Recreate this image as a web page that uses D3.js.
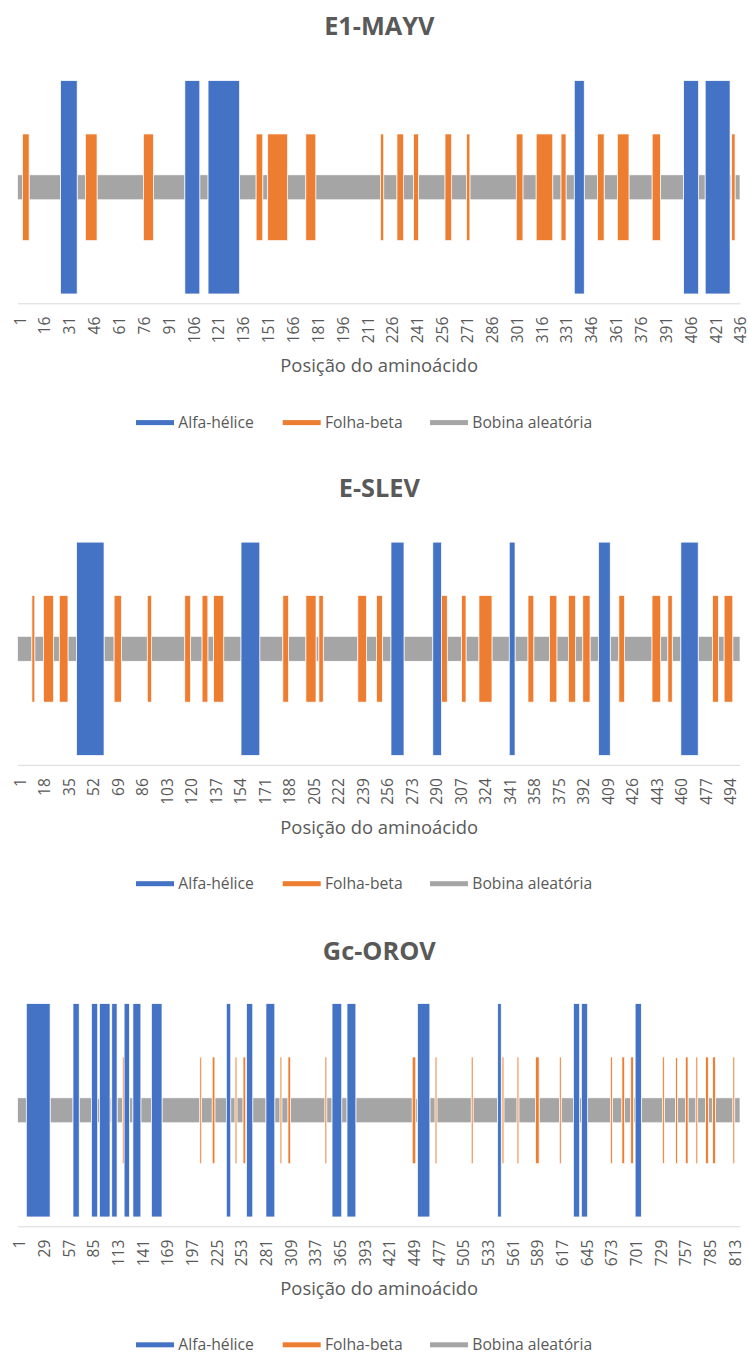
<!DOCTYPE html>
<html>
<head>
<meta charset="utf-8">
<script src="https://cdn.jsdelivr.net/npm/d3@7"></script>
<style>
  html, body { margin: 0; padding: 0; background: #fff; }
  svg { display: block; }
</style>
</head>
<body>
<script>
// ---------------- DATA ----------------
const proteins = ["E1-MAYV", "E-SLEV", "Gc-OROV"];
const proteinLengths = [436, 501, 820];

const helixMAYV = [[27,36],[102,110],[116,134],[337,342],[403,411],[416,430]];
const betaMAYV = [[4,7],[42,48],[77,82],[145,148],[152,163],[175,180],[220,221],[230,233],[240,242],[259,262],[272,273],[302,305],[314,323],[329,331],[351,354],[363,369],[384,388],[432,433]];

const helixSLEV = [[42,60],[156,168],[260,268],[289,294],[342,345],[404,411],[461,472]];
const betaSLEV = [[11,12],[19,25],[30,35],[68,72],[91,93],[117,120],[129,132],[137,143],[185,188],[201,207],[210,212],[237,242],[250,253],[295,298],[309,311],[321,329],[355,358],[370,374],[383,387],[393,397],[418,421],[441,446],[452,454],[483,486],[491,496]];

const helixOROV = [[11,37],[64,70],[85,91],[94,105],[108,113],[122,127],[132,140],[153,164],[238,242],[261,267],[283,292],[358,368],[375,384],[455,468],[546,549],[632,638],[641,647],[702,708]];
const betaOROV = [[120,121],[208,209],[222,224],[248,249],[257,259],[299,300],[308,310],[350,351],[449,452],[475,476],[516,517],[551,552],[568,569],[589,592],[616,617],[674,675],[687,689],[697,699],[733,734],[748,749],[759,761],[771,772],[782,784],[790,792],[813,814]];

const ticksMAYV = [1,16,31,46,61,76,91,106,121,136,151,166,181,196,211,226,241,256,271,286,301,316,331,346,361,376,391,406,421,436];
const ticksSLEV = [1,18,35,52,69,86,103,120,137,154,171,188,205,222,239,256,273,290,307,324,341,358,375,392,409,426,443,460,477,494];
const ticksOROV = [1,29,57,85,113,141,169,197,225,253,281,309,337,365,393,421,449,477,505,533,561,589,617,645,673,701,729,757,785,813];

const seriesNames = ["Alfa-hélice", "Folha-beta", "Bobina aleatória"];
const axisTitle = "Posição do aminoácido";

// --------------- LAYOUT / STYLE ---------------
const W = 748, H = 1354;
const colors = {"Alfa-hélice": "#4472C4", "Folha-beta": "#ED7D31", "Bobina aleatória": "#A5A5A5"};
const halfHeight = {"Alfa-hélice": 1, "Folha-beta": 0.5, "Bobina aleatória": 0.117};
const textColor = "#595959";
const FONT = "'Open Sans', 'Noto Sans', sans-serif";
const panelStep = 461.5;
const plotLeft = 17.5, plotRight = 740;

const panels = [
  {name: proteins[0], n: proteinLengths[0], helix: helixMAYV, beta: betaMAYV, ticks: ticksMAYV},
  {name: proteins[1], n: proteinLengths[1], helix: helixSLEV, beta: betaSLEV, ticks: ticksSLEV},
  {name: proteins[2], n: proteinLengths[2], helix: helixOROV, beta: betaOROV, ticks: ticksOROV}
];

const svg = d3.select("body").append("svg").attr("width", W).attr("height", H)
  .attr("font-family", FONT);
svg.append("rect").attr("width", W).attr("height", H).attr("fill", "#fff");

// font fitting helper
function measure(str, size, weight) {
  const t = svg.append("text").attr("font-size", size).attr("font-weight", weight || 400).text(str);
  const w = t.node().getComputedTextLength();
  t.remove();
  return w;
}
const titleSize = d3.mean([["E1-MAYV",112.7],["E-SLEV",80],["Gc-OROV",112.3]], d => 20 * d[1] / measure(d[0], 20, 700));
const axisTitleSize = 16 * 198 / measure(axisTitle, 16);
const legendSize = 16 * 120 / measure("Bobina aleatória", 16);
const tickSize = 16 * 26.7 / measure("106", 16);

// coil = residues not in helix or beta
function coilSegments(n, helix, beta) {
  const taken = new Array(n + 2).fill(false);
  helix.concat(beta).forEach(([s, e]) => { for (let r = s; r <= e; r++) taken[r] = true; });
  const segs = [];
  let start = null;
  for (let r = 1; r <= n; r++) {
    if (!taken[r] && start === null) start = r;
    if ((taken[r] || r === n) && start !== null) {
      segs.push([start, taken[r] ? r - 1 : r]);
      start = null;
    }
  }
  return segs;
}

panels.forEach((p, i) => {
  const off = i * panelStep;
  const axisY = 303.3 + off;
  const g = svg.append("g");

  const x = d3.scaleLinear().domain([0.5, p.n + 0.5]).range([plotLeft, plotRight]);
  const y = d3.scaleLinear().domain([-1.0875, 1.0875]).range([axisY, axisY - 232]);

  // title
  g.append("text")
    .attr("x", 379.3).attr("y", 25.8 + i * 462.5).attr("dy", "0.36em")
    .attr("text-anchor", "middle").attr("font-weight", 700)
    .attr("font-size", titleSize).attr("fill", textColor).text(p.name);

  const layers = [
    {key: seriesNames[2], segs: coilSegments(p.n, p.helix, p.beta)},
    {key: seriesNames[1], segs: p.beta},
    {key: seriesNames[0], segs: p.helix}
  ];
  layers.forEach(L => {
    g.append("g").selectAll("rect").data(L.segs).join("rect")
      .attr("x", d => x(d[0] - 0.5))
      .attr("width", d => x(d[1] + 0.5) - x(d[0] - 0.5))
      .attr("y", y(halfHeight[L.key]))
      .attr("height", y(-halfHeight[L.key]) - y(halfHeight[L.key]))
      .attr("fill", colors[L.key])
      .attr("stroke", "#fff").attr("stroke-width", 0.7);
  });

  // axis
  const axis = d3.axisBottom(x).tickValues(p.ticks).tickSize(0).tickSizeOuter(0).tickFormat(d3.format("d"));
  const ag = g.append("g").attr("transform", `translate(0,${axisY})`).call(axis);
  ag.select(".domain").attr("stroke", "#D9D9D9").attr("stroke-width", 1);
  ag.selectAll("text")
    .attr("x", 0).attr("y", 0).attr("dy", "0.36em")
    .attr("transform", "translate(1.2,13.4) rotate(-90)")
    .attr("text-anchor", "end")
    .attr("font-family", FONT).attr("font-size", tickSize).attr("fill", textColor);

  // axis title
  g.append("text")
    .attr("x", 379.2).attr("y", 365.5 + off).attr("dy", "0.36em")
    .attr("text-anchor", "middle").attr("font-size", axisTitleSize)
    .attr("fill", textColor).text(axisTitle);

  // legend
  const legX = [136, 282.7, 430];
  const ly = 422.6 + off - i * 0.4;
  seriesNames.forEach((s, k) => {
    g.append("rect").attr("x", legX[k]).attr("y", ly - 2.5).attr("width", 38).attr("height", 5)
      .attr("fill", colors[s]);
    g.append("text").attr("x", legX[k] + 42.3).attr("y", ly).attr("dy", "0.36em")
      .attr("font-size", legendSize).attr("fill", textColor).text(s);
  });
});
</script>
</body>
</html>
